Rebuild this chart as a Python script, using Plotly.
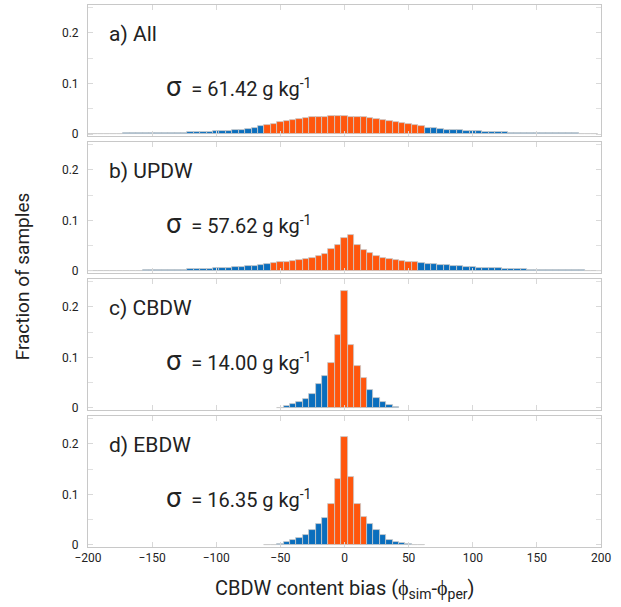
import plotly.graph_objects as go
from plotly.subplots import make_subplots

# ---- data ----
bins = list(range(-200, 205, 5))  # bin centres

frac_all = [
    0.0008, 0.0008, 0.0009, 0.0009, 0.0010, 0.0010, 0.0011, 0.0011, 0.0012, 0.0013,
    0.0014, 0.0016, 0.0018, 0.0021, 0.0024, 0.0027, 0.0031, 0.0035, 0.0040, 0.0045,
    0.0051, 0.0058, 0.0066, 0.0075, 0.0085, 0.0105, 0.0124, 0.0150,
    0.0180, 0.0200, 0.0230, 0.0255, 0.0275, 0.0300, 0.0320, 0.0333, 0.0340, 0.0346,
    0.0350, 0.0353, 0.0353, 0.0346, 0.0340, 0.0330, 0.0320, 0.0300, 0.0280, 0.0260,
    0.0240, 0.0220, 0.0200, 0.0176, 0.0150,
    0.0124, 0.0110, 0.0098, 0.0088, 0.0079, 0.0071, 0.0064, 0.0057, 0.0051, 0.0046,
    0.0041, 0.0037, 0.0033, 0.0029, 0.0026, 0.0023, 0.0021, 0.0019, 0.0017, 0.0015,
    0.0014, 0.0013, 0.0012, 0.0011, 0.0010, 0.0009, 0.0009,
]

frac_updw = [
    0.0007, 0.0007, 0.0008, 0.0008, 0.0008, 0.0009, 0.0009, 0.0010, 0.0010, 0.0011,
    0.0012, 0.0013, 0.0016, 0.0020, 0.0023, 0.0026, 0.0030, 0.0035, 0.0040, 0.0046,
    0.0052, 0.0060, 0.0068, 0.0076, 0.0085, 0.0094, 0.0105, 0.0118, 0.0137,
    0.0150, 0.0170, 0.0182, 0.0198, 0.0218, 0.0238, 0.0265, 0.0300, 0.0340, 0.0430,
    0.0505, 0.0650, 0.0706, 0.0505, 0.0420, 0.0350, 0.0300, 0.0265, 0.0240, 0.0215,
    0.0200, 0.0185, 0.0170, 0.0157,
    0.0145, 0.0132, 0.0120, 0.0110, 0.0100, 0.0090, 0.0082, 0.0075, 0.0068, 0.0062,
    0.0056, 0.0050, 0.0045, 0.0040, 0.0035, 0.0031, 0.0027, 0.0023, 0.0020, 0.0018,
    0.0016, 0.0014, 0.0013, 0.0012, 0.0011, 0.0010, 0.0009, 0.0008,
]

cbdw_bins = [-50, -45, -40, -35, -30, -25, -20, -15, -10, -5, 0, 5, 10, 15, 20, 25, 30, 35, 40]
frac_cbdw = [0.0010, 0.0035, 0.0075, 0.0120, 0.0180, 0.0280, 0.0470, 0.0640, 0.0880, 0.1450,
             0.2320, 0.1240, 0.0830, 0.0600, 0.0350, 0.0200, 0.0125, 0.0060, 0.0012]

ebdw_bins = [-60, -55, -50, -45, -40, -35, -30, -25, -20, -15, -10, -5, 0, 5, 10, 15,
             20, 25, 30, 35, 40, 45, 50, 55, 60]
frac_ebdw = [0.0005, 0.0010, 0.0020, 0.0050, 0.0090, 0.0130, 0.0200, 0.0300, 0.0410, 0.0540,
             0.0810, 0.1300, 0.2130, 0.1350, 0.0820, 0.0550, 0.0410, 0.0290, 0.0200, 0.0105,
             0.0060, 0.0035, 0.0020, 0.0010, 0.0005]

panel_labels = ["a) All", "b) UPDW", "c) CBDW", "d) EBDW"]
sigma_values = ["61.42", "57.62", "14.00", "16.35"]
highlight_lo = [-60, -55, -10, -10]
highlight_hi = [60, 55, 15, 15]

x_ticks = [-200, -150, -100, -50, 0, 50, 100, 150, 200]
y_ticks = [0, 0.1, 0.2]
y_tick_labels = ["0", "0.1", "0.2"]

BLUE = "#0A6EBD"
ORANGE = "#FF560D"
FONT = "Roboto"

series = [(bins, frac_all), (bins, frac_updw), (cbdw_bins, frac_cbdw), (ebdw_bins, frac_ebdw)]

fig = make_subplots(rows=4, cols=1, shared_xaxes=True, vertical_spacing=0.011)

for i, (xs, ys) in enumerate(series):
    colors = [ORANGE if highlight_lo[i] <= x <= highlight_hi[i] else BLUE for x in xs]
    fig.add_trace(go.Bar(x=xs, y=ys, width=5, marker=dict(color=colors,
                         line=dict(color="#c9c9c9", width=0.8)), showlegend=False),
                  row=i + 1, col=1)
    xr = f"x{i+1}" if i else "x"
    yr = f"y{i+1}" if i else "y"
    fig.add_annotation(x=-185, y=0.198, xref=xr, yref=yr,
                       text=panel_labels[i], showarrow=False, xanchor="left", yanchor="middle",
                       font=dict(family=FONT, size=21, color="#222"))
    fig.add_annotation(x=-141, y=0.093, xref=xr, yref=yr,
                       text=f"<span style='font-size:27px'>σ</span>  = {sigma_values[i]} g kg<sup>-1</sup>",
                       showarrow=False, xanchor="left", yanchor="middle",
                       font=dict(family=FONT, size=20, color="#222"))

for i in range(1, 5):
    fig.update_xaxes(row=i, col=1, range=[-200, 200], tickvals=x_ticks,
                     showticklabels=(i == 4), ticks="inside", ticklen=5, tickcolor="#d8d8d8",
                     showline=True, linecolor="#c8c8c8", linewidth=1, mirror="allticks",
                     showgrid=False, zeroline=False,
                     tickfont=dict(family=FONT, size=12, color="#222"))
    fig.update_yaxes(row=i, col=1, range=[-0.004, 0.255], tickvals=y_ticks, ticktext=y_tick_labels,
                     ticks="inside", ticklen=5, tickcolor="#d8d8d8",
                     minor=dict(dtick=0.05, ticks="inside", ticklen=5, tickcolor="#e0e0e0", showgrid=False),
                     showline=True, linecolor="#c8c8c8", linewidth=1, mirror="allticks",
                     showgrid=False, zeroline=False, ticklabelstandoff=6,
                     tickfont=dict(family=FONT, size=12, color="#222"))

fig.add_annotation(x=-0.128, y=0.5, xref="paper", yref="paper", text="Fraction of samples",
                   textangle=-90, showarrow=False, xanchor="center", yanchor="middle",
                   font=dict(family=FONT, size=19, color="#222"))
fig.add_annotation(x=0.5, y=-0.078, xref="paper", yref="paper",
                   text="CBDW content bias (ϕ<sub>sim</sub>-ϕ<sub>per</sub>)",
                   showarrow=False, xanchor="center", yanchor="middle",
                   font=dict(family=FONT, size=20, color="#222"))

fig.update_layout(width=621, height=607, margin=dict(l=88, r=20, t=5, b=60),
                  plot_bgcolor="white", paper_bgcolor="white", bargap=0)

fig.write_html("out.html", config={"displayModeBar": False},
               post_script="document.body.style.margin='0';")
